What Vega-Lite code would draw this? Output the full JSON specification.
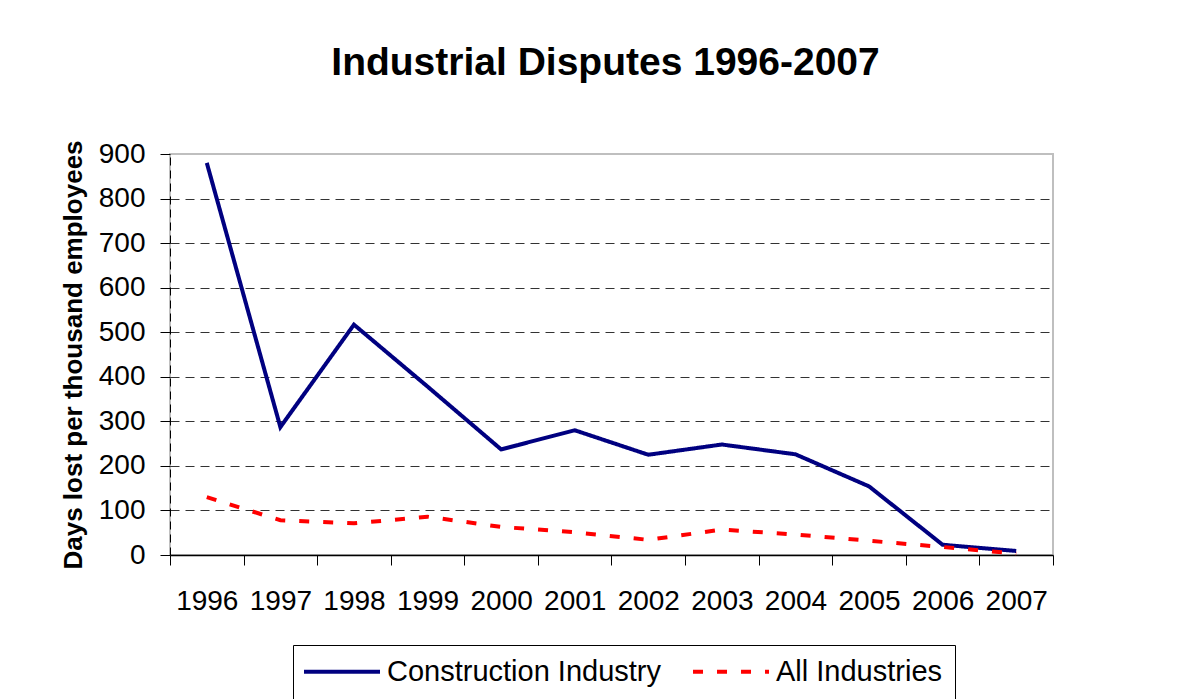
{
  "$schema": "https://vega.github.io/schema/vega-lite/v6.json",
  "autosize": {"type": "none"},
  "width": 883,
  "height": 401,
  "padding": {"left": 170, "top": 154, "right": 133, "bottom": 144},
  "background": "white",
  "title": {
    "text": "Industrial Disputes 1996-2007",
    "font": "Liberation Sans",
    "fontSize": 39,
    "fontWeight": "bold",
    "color": "black",
    "anchor": "middle",
    "offset": 57,
    "dx": -6
  },
  "data": {
    "values": [
      {"year": "1996", "series": "Construction Industry", "value": 880},
      {"year": "1997", "series": "Construction Industry", "value": 287},
      {"year": "1998", "series": "Construction Industry", "value": 517},
      {"year": "1999", "series": "Construction Industry", "value": 378},
      {"year": "2000", "series": "Construction Industry", "value": 237},
      {"year": "2001", "series": "Construction Industry", "value": 280},
      {"year": "2002", "series": "Construction Industry", "value": 225},
      {"year": "2003", "series": "Construction Industry", "value": 248},
      {"year": "2004", "series": "Construction Industry", "value": 226},
      {"year": "2005", "series": "Construction Industry", "value": 154},
      {"year": "2006", "series": "Construction Industry", "value": 23},
      {"year": "2007", "series": "Construction Industry", "value": 9},
      {"year": "1996", "series": "All Industries", "value": 130},
      {"year": "1997", "series": "All Industries", "value": 78},
      {"year": "1998", "series": "All Industries", "value": 71},
      {"year": "1999", "series": "All Industries", "value": 86},
      {"year": "2000", "series": "All Industries", "value": 63},
      {"year": "2001", "series": "All Industries", "value": 51},
      {"year": "2002", "series": "All Industries", "value": 34},
      {"year": "2003", "series": "All Industries", "value": 57},
      {"year": "2004", "series": "All Industries", "value": 46},
      {"year": "2005", "series": "All Industries", "value": 32},
      {"year": "2006", "series": "All Industries", "value": 18},
      {"year": "2007", "series": "All Industries", "value": 3}
    ]
  },
  "mark": {"type": "line", "strokeWidth": 4, "strokeCap": "butt", "strokeJoin": "miter"},
  "encoding": {
    "x": {
      "field": "year",
      "type": "ordinal",
      "scale": {"type": "band", "paddingInner": 0, "paddingOuter": 0},
      "axis": {
        "title": null,
        "labelAngle": 0,
        "labelFont": "Liberation Sans",
        "labelFontSize": 28,
        "labelColor": "black",
        "labelPadding": 22,
        "tickBand": "extent",
        "tickSize": 10,
        "tickColor": "black",
        "tickWidth": 1,
        "domainColor": "black",
        "domainWidth": 1.5,
        "grid": false
      }
    },
    "y": {
      "field": "value",
      "type": "quantitative",
      "scale": {"domain": [0, 900], "nice": false},
      "axis": {
        "title": "Days lost per thousand employees",
        "titleFont": "Liberation Sans",
        "titleFontSize": 26,
        "titleFontWeight": "bold",
        "titleColor": "black",
        "titlePadding": 12,
        "values": [0, 100, 200, 300, 400, 500, 600, 700, 800, 900],
        "labelFont": "Liberation Sans",
        "labelFontSize": 28,
        "labelColor": "black",
        "labelPadding": 15,
        "tickSize": 10,
        "tickColor": "black",
        "tickWidth": 1,
        "domainColor": "black",
        "domainDash": [8, 5],
        "domainWidth": 1,
        "grid": true,
        "gridColor": "#333333",
        "gridDash": [9, 6],
        "gridWidth": 1,
        "gridOpacity": {"condition": {"test": "datum.value == 900 || datum.value == 0", "value": 0}, "value": 1}
      }
    },
    "color": {
      "field": "series",
      "type": "nominal",
      "scale": {"domain": ["Construction Industry", "All Industries"], "range": ["#000080", "#ff0000"]},
      "legend": {
        "title": null,
        "orient": "none",
        "direction": "horizontal",
        "legendX": 123,
        "legendY": 491,
        "padding": 12,
        "strokeColor": "black",
        "fillColor": "white",
        "symbolType": "M-1.63,0L6.37,0",
        "symbolSize": 361,
        "symbolStrokeWidth": 4,
        "labelFont": "Liberation Sans",
        "labelFontSize": 29,
        "labelColor": "black",
        "labelOffset": 53,
        "labelLimit": 400,
        "columnPadding": 23
      }
    },
    "strokeDash": {
      "field": "series",
      "type": "nominal",
      "scale": {"domain": ["Construction Industry", "All Industries"], "range": [[1, 0], [10, 14]]},
      "legend": null
    }
  },
  "config": {
    "view": {"stroke": "#bfbfbf", "strokeWidth": 2}
  }
}
